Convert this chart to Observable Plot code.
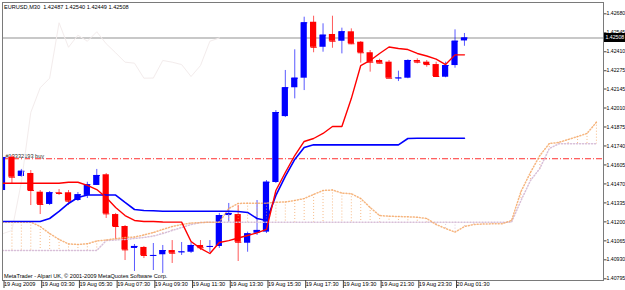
<!DOCTYPE html>
<html>
<head>
<meta charset="utf-8">
<script src="https://cdn.jsdelivr.net/npm/d3@7"></script>
<script src="https://cdn.jsdelivr.net/npm/@observablehq/plot@0.6"></script>
<style>
html,body{margin:0;padding:0;background:#fff;}
#chart{width:625px;height:290px;overflow:hidden;}
</style>
</head>
<body>
<div id="chart"></div>
<script>
// ---- data (EURUSD M30, bars indexed from 19 Aug 2009 01:30) ----
const opens  = [1.41423,1.41660,1.41523,1.41544,1.41411,1.41324,1.41407,1.41407,1.41352,1.41388,
                1.41459,1.41535,1.41252,1.41167,1.41011,1.41018,1.40957,1.40966,1.40996,1.40982,
                1.40984,1.41032,1.41021,1.41025,1.41245,1.41252,1.41048,1.41119,1.41127,1.41480,
                1.41949,1.42154,1.42222,1.42620,1.42442,1.42533,1.42485,1.42552,1.42478,1.42403,
                1.42348,1.42336,1.42220,1.42222,1.42348,1.42336,1.42319,1.42229,1.42312,1.42487];
const highs  = [1.41672,1.41672,1.41573,1.41565,1.41423,1.41416,1.41430,1.41423,1.41409,1.41482,
                1.41573,1.41544,1.41260,1.41174,1.41039,1.41025,1.41046,1.41032,1.41067,1.41053,
                1.41053,1.41067,1.41067,1.41260,1.41331,1.41316,1.41127,1.41352,1.41494,1.41992,
                1.42277,1.42424,1.42656,1.42663,1.42609,1.42663,1.42578,1.42573,1.42483,1.42419,
                1.42357,1.42348,1.42272,1.42353,1.42360,1.42348,1.42336,1.42336,1.42566,1.42540];
const lows   = [1.41409,1.41473,1.41516,1.41316,1.41252,1.41316,1.41388,1.41316,1.41345,1.41366,
                1.41459,1.41224,1.41075,1.40925,1.40847,1.40939,1.40854,1.40833,1.40904,1.40961,
                1.40975,1.40996,1.40982,1.41011,1.41198,1.40918,1.40984,1.41103,1.41117,1.41473,
                1.41942,1.42075,1.42134,1.42403,1.42407,1.42435,1.42395,1.42460,1.42329,1.42265,
                1.42324,1.42222,1.42198,1.42218,1.42324,1.42300,1.42229,1.42225,1.42293,1.42449];
const closes = [1.41658,1.41518,1.41560,1.41423,1.41324,1.41407,1.41402,1.41347,1.41393,1.41464,
                1.41530,1.41257,1.41167,1.41001,1.41025,1.40961,1.40961,1.40996,1.40977,1.40986,
                1.41032,1.41016,1.41025,1.41245,1.41260,1.41055,1.41115,1.41139,1.41482,1.41978,
                1.42154,1.42222,1.42616,1.42442,1.42528,1.42485,1.42552,1.42467,1.42403,1.42336,
                1.42329,1.42222,1.42223,1.42348,1.42336,1.42319,1.42234,1.42312,1.42485,1.42508];

// Ichimoku lines
const tenkan = [1.41475,1.41475,1.41475,1.41475,1.41475,1.41475,1.41475,1.41482,1.41482,1.41459,
                1.41430,1.41373,1.41302,1.41245,1.41210,1.41203,1.41203,1.41199,1.41198,1.41198,
                1.41060,1.41011,1.40975,1.41053,1.41067,1.41085,1.41103,1.41122,1.41146,1.41423,
                1.41551,1.41672,1.41772,1.41793,1.41829,1.41878,1.41878,1.42077,1.42312,1.42348,
                1.42398,1.42444,1.42433,1.42426,1.42398,1.42380,1.42358,1.42319,1.42388,1.42388];
const kijun  = [1.41203,1.41203,1.41203,1.41203,1.41203,1.41224,1.41274,1.41331,1.41373,1.41391,
                1.41391,1.41391,1.41391,1.41338,1.41288,1.41281,1.41279,1.41276,1.41276,1.41276,
                1.41276,1.41276,1.41276,1.41276,1.41276,1.41274,1.41267,1.41224,1.41210,1.41388,
                1.41523,1.41644,1.41729,1.41748,1.41748,1.41748,1.41748,1.41748,1.41748,1.41748,
                1.41748,1.41748,1.41748,1.41793,1.41795,1.41795,1.41795,1.41795,1.41795,1.41795];
const spanA  = [1.41198,1.41198,1.41198,1.41198,1.41167,1.41117,1.41075,1.41043,1.41039,1.41044,
                1.41064,1.41071,1.41080,1.41089,1.41092,1.41107,1.41124,1.41146,1.41167,1.41181,
                1.41192,1.41195,1.41198,1.41198,1.41295,1.41331,1.41333,1.41333,1.41333,1.41340,
                1.41341,1.41352,1.41366,1.41395,1.41423,1.41427,1.41405,1.41400,1.41366,1.41302,
                1.41245,1.41240,1.41238,1.41236,1.41233,1.41224,1.41181,1.41153,1.41127,1.41167,
                1.41181,1.41185,1.41186,1.41186,1.41210,1.41416,1.41551,1.41672,1.41757,1.41765,
                1.41786,1.41807,1.41829,1.41909];
const spanB  = [1.40996,1.40996,1.40996,1.40996,1.40996,1.40996,1.40996,1.40996,1.40996,1.40996,
                1.40996,1.41067,1.41071,1.41075,1.41082,1.41089,1.41099,1.41117,1.41139,1.41160,
                1.41181,1.41195,1.41198,1.41198,1.41198,1.41198,1.41198,1.41198,1.41198,1.41198,
                1.41198,1.41198,1.41198,1.41198,1.41198,1.41198,1.41198,1.41198,1.41198,1.41198,
                1.41198,1.41198,1.41198,1.41198,1.41198,1.41198,1.41198,1.41198,1.41198,1.41198,
                1.41198,1.41198,1.41198,1.41198,1.41198,1.41352,1.41494,1.41580,1.41722,1.41755,
                1.41755,1.41755,1.41755,1.41755];
const chikouShift = 26;

const xTickIdx    = [0,4,8,12,16,20,24,28,32,36,40,44,48];
const xTickLabels = ["19 Aug 2009","19 Aug 03:30","19 Aug 05:30","19 Aug 07:30","19 Aug 09:30",
                     "19 Aug 11:30","19 Aug 13:30","19 Aug 15:30","19 Aug 17:30","19 Aug 19:30",
                     "19 Aug 21:30","19 Aug 23:30","20 Aug 01:30"];
const yTicks = [1.42680,1.42545,1.42410,1.42275,1.42145,1.42010,1.41875,1.41740,
                1.41605,1.41470,1.41335,1.41200,1.41065,1.40930,1.40795];

const lastClose  = 1.42508;
const orderPrice = 1.41649;
const orderLabel = "#13332193 buy";
const titleText  = "EURUSD,M30  1.42487 1.42540 1.42449 1.42508";
const copyright  = "MetaTrader - Alpari UK, \u00a9 2001-2009 MetaQuotes Software Corp.";

// ---- derived tables ----
const bars = opens.map((o, i) => ({i, o, h: highs[i], l: lows[i], c: closes[i]}));
const upBars = bars.filter(d => d.c >= d.o);
const downBars = bars.filter(d => d.c < d.o);
const cloud = spanA.map((a, i) => ({i, a, b: spanB[i]}));
const cloudUp = cloud.filter(d => d.a >= d.b);
const cloudDown = cloud.filter(d => d.a < d.b);
const chikou = closes.slice(chikouShift).map((c, i) => ({i, c}));
const tk = tenkan.map((v, i) => ({i, v}));
const kj = kijun.map((v, i) => ({i, v}));
const tickLabel = new Map(xTickIdx.map((t, k) => [t, xTickLabels[k]]));

const UP = "#0000ff", DOWN = "#ff0000";
const SANDY = "#f4a460", THISTLE = "#d8bfd8";
const hw = 0.33;
const FONT = "'Liberation Sans', Arial, sans-serif";
const FS = 5.2;

function priceBox(index, scales, values, dimensions) {
  const y = scales.y(lastClose);
  const x0 = dimensions.width - dimensions.marginRight + 1;
  const g = d3.create("svg:g");
  g.append("rect").attr("x", x0).attr("y", y - 4.5).attr("width", dimensions.marginRight)
    .attr("height", 9).attr("fill", "#000");
  g.append("text").attr("x", x0 + 1.5).attr("y", y).attr("dy", "0.35em")
    .attr("text-anchor", "start")
    .attr("fill", "#fff").attr("font-size", FS + "px").attr("font-family", FONT)
    .text(lastClose.toFixed(5));
  return g.node();
}

const chart = Plot.plot({
  width: 625,
  height: 290,
  marginLeft: 2,
  marginRight: 22,
  marginTop: 2,
  marginBottom: 10,
  style: {fontFamily: FONT, fontSize: FS + "px", background: "#fff", color: "#000", overflow: "hidden"},
  x: {type: "linear", domain: [0, 63.75]},
  y: {domain: [1.407829, 1.427605]},
  marks: [
    // current bid line
    Plot.ruleY([lastClose], {stroke: "#c8c8c8", strokeWidth: 2}),
    // order line
    Plot.ruleY([orderPrice], {stroke: "#ff3030", strokeDasharray: "6,2,1,2", strokeWidth: 1}),
    Plot.text([orderPrice], {y: d => d, frameAnchor: "left", text: () => orderLabel, dx: 3, dy: -1,
      textAnchor: "start", lineAnchor: "bottom", fill: "#333", fontSize: 5.6}),
    // candles: wicks
    Plot.ruleX(upBars, {x: "i", y1: "l", y2: "h", stroke: UP, strokeOpacity: 0.65, clip: true}),
    Plot.ruleX(downBars, {x: "i", y1: "l", y2: "h", stroke: DOWN, strokeOpacity: 0.65, clip: true}),
    // candles: bodies
    Plot.rect(upBars, {x1: d => d.i - hw, x2: d => d.i + hw, y1: "o", y2: "c", fill: UP, clip: true}),
    Plot.rect(downBars, {x1: d => d.i - hw, x2: d => d.i + hw, y1: "c", y2: "o", fill: DOWN, clip: true}),
    Plot.link(upBars, {x1: d => d.i - hw, x2: d => d.i + hw, y1: "c", y2: "c", stroke: UP, clip: true}),
    Plot.link(downBars, {x1: d => d.i - hw, x2: d => d.i + hw, y1: "c", y2: "c", stroke: DOWN, clip: true}),
    // Kumo hatching and spans
    Plot.ruleX(cloudUp, {x: "i", y1: "a", y2: "b", stroke: SANDY, strokeOpacity: 0.75, strokeDasharray: "1,2", clip: true}),
    Plot.ruleX(cloudDown, {x: "i", y1: "a", y2: "b", stroke: THISTLE, strokeOpacity: 0.85, strokeDasharray: "1,2", clip: true}),
    Plot.line(cloud, {x: "i", y: "b", stroke: THISTLE, strokeDasharray: "1,2", clip: true}),
    Plot.line(cloud, {x: "i", y: "a", stroke: SANDY, strokeOpacity: 0.8, strokeDasharray: "1,2", clip: true}),
    // Chikou span (very faint)
    Plot.line(chikou, {x: "i", y: "c", stroke: "#f3ecec", strokeWidth: 1, clip: true}),
    // Kijun & Tenkan
    Plot.line(kj, {x: "i", y: "v", stroke: UP, strokeWidth: 1.6, clip: true}),
    Plot.line(tk, {x: "i", y: "v", stroke: DOWN, strokeWidth: 1.4, clip: true}),
    // frame
    Plot.frame({stroke: "#7a7a7a"}),
    // axes
    Plot.axisY({anchor: "right", ticks: yTicks, tickFormat: d => d.toFixed(5), tickSize: 2.5,
      tickPadding: 0.5, label: null, fontSize: FS, stroke: "#444"}),
    Plot.axisX({anchor: "bottom", ticks: xTickIdx, tickFormat: d => tickLabel.get(d), tickSize: 8,
      tickPadding: -6, textAnchor: "start", dx: 1.5, label: null, fontSize: 5.6, stroke: "#444"}),
    // texts
    Plot.text([titleText], {text: d => d, frameAnchor: "top-left", dx: 1.5, dy: 2.5,
      textAnchor: "start", lineAnchor: "top", fill: "#000", fontSize: 5.6}),
    Plot.text([copyright], {text: d => d, frameAnchor: "bottom-left", dx: 1.5, dy: -3,
      textAnchor: "start", lineAnchor: "bottom", fill: "#000", fontSize: 5.6}),
    // current price box
    priceBox
  ]
});
document.getElementById("chart").append(chart);
</script>
</body>
</html>
